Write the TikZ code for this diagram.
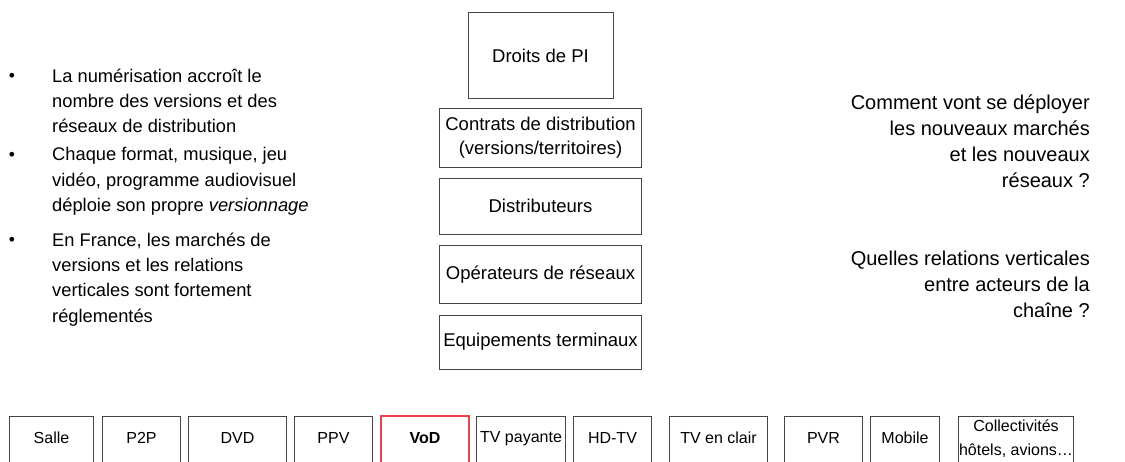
\documentclass[tikz,border=0pt]{standalone}
\usepackage{fontspec}
\setmainfont{Liberation Sans}
\usepackage{xcolor}
\usepackage{tikz}
\usetikzlibrary{positioning}
\definecolor{boxline}{RGB}{70,70,70}
\definecolor{vodred}{RGB}{240,64,76}

\begin{document}
\begin{tikzpicture}[x=1pt,y=-1pt]
    \tikzset{lyr/.style={draw=boxline,line width=0.9pt,minimum width=202pt,inner sep=0pt,align=center,font=\fontsize{18.5}{24}\selectfont},
             tab/.style={minimum height=44pt,inner sep=0pt,anchor=north,align=center,font=\fontsize{16}{24}\selectfont},
             tabedge/.style={draw=boxline,line width=0.9pt},
             para/.style={inner sep=0pt,anchor=north west,align=left,font=\fontsize{18.3}{25.3}\selectfont},
             ask/.style={inner sep=0pt,anchor=north east,align=right,font=\fontsize{20}{26}\selectfont}}
    \clip (0,0) rectangle (1125,462);
    \useasboundingbox (0,0) rectangle (1125,462);
    % left bullets
    \foreach \y/\nm in {82/ba,161/bb,246/bc}{
      \node[anchor=base,font=\fontsize{17.5}{25.5}\selectfont] (\nm) at (12,\y) {•};
    }
    \node[para] (ta) at (52,68.5) {La numérisation accroît le\\nombre des versions et des\\réseaux de distribution};
    \node[para] (tb) at (52,147.5) {Chaque format, musique, jeu\\vidéo, programme audiovisuel\\déploie son propre \textit{versionnage}};
    \node[para] (tc) at (52,232.5) {En France, les marchés de\\versions et les relations\\verticales sont fortement\\réglementés};
    % chain of layers
    \node[lyr,minimum width=145pt,minimum height=86pt,anchor=north] (pi) at (540.5,12) {Droits de PI};
    \node[lyr,minimum height=59pt,below=9pt of pi] (contrats) {Contrats de distribution\\(versions/territoires)};
    \node[lyr,minimum height=56pt,below=10pt of contrats] (distrib) {Distributeurs};
    \node[lyr,minimum height=58pt,below=10pt of distrib] (oper) {Opérateurs de réseaux};
    \node[lyr,minimum height=54pt,below=11pt of oper] (equip) {Equipements terminaux};
    % questions
    \node[ask] (qa) at (1090,94.4) {Comment vont se déployer\\les nouveaux marchés\\et les nouveaux\\réseaux ?};
    \node[ask] (qb) at (1090,251.3) {Quelles relations verticales\\entre acteurs de la\\chaîne ?};
    % versions along the bottom
    \foreach \xa/\xb/\nm/\txt in {10/93/salle/Salle,103/180/ptp/P2P,189/286/dvd/DVD,295/372/ppv/PPV,477/565/tvp/TV payante,574/651/hdtv/HD-TV,670/767/clair/TV en clair,785/862/pvr/PVR,871/939/mob/Mobile,959/1073/coll/{Collectivités\\hôtels, avions…}}{
      \node[tab,minimum width={\xb-\xa}] (\nm) at ({(\xa+\xb)/2},416) {\txt};
      \draw[tabedge] ([yshift=-20pt]\nm.south west) |- (\nm.north east) -- ([yshift=-20pt]\nm.south east);
    }
    \node[tab,minimum width=87pt,font=\fontsize{16}{24}\selectfont\bfseries] (vod) at (425,416) {VoD};
    \draw[draw=vodred,line width=2pt] ([yshift=-20pt]vod.south west) |- (vod.north east) -- ([yshift=-20pt]vod.south east);
  \end{tikzpicture}
\end{document}
